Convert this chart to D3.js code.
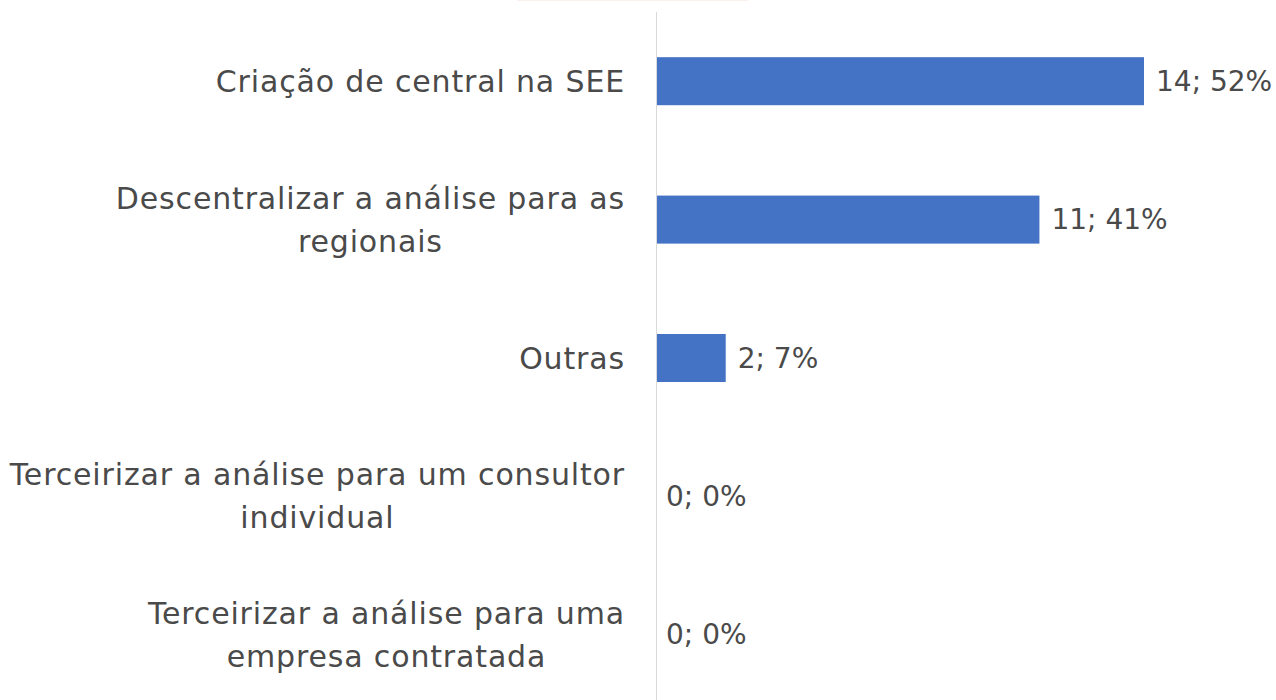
<!DOCTYPE html>
<html>
<head>
<meta charset="utf-8">
<script src="https://cdn.jsdelivr.net/npm/d3@7"></script>
<style>
  html, body { margin: 0; padding: 0; background: #fff; }
  svg { display: block; }
  text { font-family: "Century Gothic", "DejaVu Sans", sans-serif; fill: #4a4a4a; }
</style>
</head>
<body>
<svg id="chart" width="1276" height="700"></svg>
<script>
// Answer options (line breaks as they wrap on the axis)
const categories = [
  "Criação de central na SEE",
  "Descentralizar a análise para as\nregionais",
  "Outras",
  "Terceirizar a análise para um consultor\nindividual",
  "Terceirizar a análise para uma\nempresa contratada"
];
const counts = [14, 11, 2, 0, 0];
const percents = ["52%", "41%", "7%", "0%", "0%"];

const W = 1276, H = 700;
const axisX = 656;
const svg = d3.select("#chart");

const x = d3.scaleLinear().domain([0, 14]).range([axisX, 1144]);
const y = d3.scaleBand().domain(categories).range([12, 704]).paddingInner(0.653).paddingOuter(0.3265);

// faint edge of the title box at the top
svg.append("rect").attr("x", 517).attr("y", -1).attr("width", 231).attr("height", 2)
  .attr("fill", "#fcf1ea");

// bars
svg.append("g").selectAll("rect").data(categories).join("rect")
  .attr("x", x(0))
  .attr("y", d => y(d))
  .attr("width", (d, i) => x(counts[i]) - x(0))
  .attr("height", y.bandwidth())
  .attr("fill", "#4472c4");

// vertical category axis line
svg.append("line").attr("x1", axisX + 0.5).attr("x2", axisX + 0.5)
  .attr("y1", 12).attr("y2", H).attr("stroke", "#d9d9d9").attr("stroke-width", 1);

// category labels, right-aligned block with centred lines
const labels = svg.append("g");
categories.forEach((c, i) => {
  const lines = c.split("\n");
  const cy = y(c) + y.bandwidth() / 2;
  const g = labels.append("g");
  const texts = lines.map((ln, k) => g.append("text")
    .attr("font-size", 30)
    .attr("letter-spacing", 0.85)
    .attr("dominant-baseline", "central")
    .attr("y", cy + (k - (lines.length - 1) / 2) * 43)
    .text(ln));
  const widths = texts.map(t => t.node().getComputedTextLength());
  const maxW = d3.max(widths);
  texts.forEach(t => t.attr("text-anchor", "middle").attr("x", 625 - maxW / 2));
});

// value labels
svg.append("g").selectAll("text").data(categories).join("text")
  .attr("x", (d, i) => x(counts[i]) + (counts[i] > 0 ? 12 : 10))
  .attr("y", d => y(d) + y.bandwidth() / 2)
  .attr("dominant-baseline", "central")
  .attr("font-size", 28)
  .text((d, i) => counts[i] + "; " + percents[i]);
</script>
</body>
</html>
